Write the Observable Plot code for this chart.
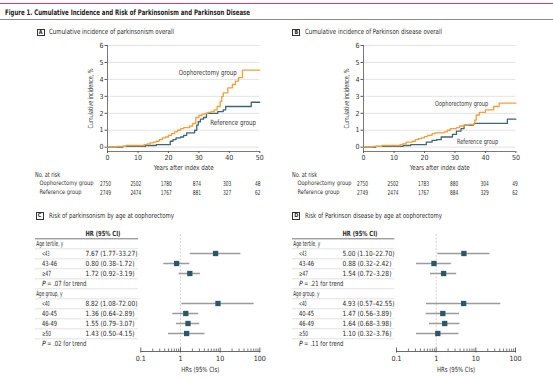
<!DOCTYPE html>
<html><head><meta charset="utf-8">
<script src="https://cdn.jsdelivr.net/npm/d3@7"></script>
<script src="https://cdn.jsdelivr.net/npm/@observablehq/plot@0.6"></script>
<style>
html,body{margin:0;padding:0;background:#fff;}
#fig{position:relative;width:553px;height:379px;overflow:hidden;background:#fff;font-family:"Liberation Sans Narrow","DejaVu Sans Condensed",sans-serif;color:#2b2b2b;}
#fig svg{position:absolute;overflow:visible;}
.t{position:absolute;white-space:nowrap;line-height:1;transform-origin:0 50%;}
.box{position:absolute;width:6px;height:5.6px;border:0.8px solid #333;font-size:5.5px;font-weight:bold;line-height:5.8px;text-align:center;}
.bar{position:absolute;left:0;width:553px;}
</style></head><body><div id="fig"></div>
<script>
// ---------- Data ----------
const years = [0, 10, 20, 30, 40, 50];
const riskGroups = ["Oophorectomy group", "Reference group"];
const riskA_oophorectomy = [2750, 2502, 1780, 874, 303, 48];
const riskA_reference    = [2749, 2474, 1767, 881, 327, 62];
const riskB_oophorectomy = [2750, 2502, 1783, 880, 304, 49];
const riskB_reference    = [2749, 2474, 1767, 884, 329, 62];

// Cumulative incidence of parkinsonism (panel A), step curves
const A_oophorectomy_t = [0, 3, 6, 12, 13, 14, 15, 16, 17, 18, 19, 20, 21, 22, 23, 24, 25, 27, 28, 29, 30, 31, 32, 33, 34, 35, 36, 37, 37.5, 38, 39.5, 41, 42, 43, 44.3, 50];
const A_oophorectomy_v = [0, 0.05, 0.1, 0.15, 0.2, 0.25, 0.3, 0.35, 0.45, 0.55, 0.6, 0.7, 0.8, 0.9, 1.0, 1.1, 1.15, 1.25, 1.4, 1.75, 1.87, 1.95, 2.0, 2.05, 2.1, 2.2, 2.4, 2.7, 3.0, 3.2, 3.5, 3.7, 3.9, 4.1, 4.55, 4.55];
const A_reference_t = [0, 5, 12.5, 16, 20.6, 21.5, 22.5, 24, 25, 26, 28.6, 29.3, 29.8, 30.5, 31.5, 32.5, 36.2, 38, 38.8, 47.2, 50];
const A_reference_v = [0, 0.05, 0.1, 0.15, 0.35, 0.45, 0.55, 0.6, 0.7, 0.85, 1.0, 1.3, 1.5, 1.65, 1.75, 2.0, 2.1, 2.2, 2.4, 2.65, 2.65];

// Cumulative incidence of Parkinson disease (panel B)
const B_oophorectomy_t = [0, 3, 6, 12, 12.8, 14, 16, 17, 18, 19, 20, 21, 22.5, 23.5, 26.5, 27.5, 28.5, 30.5, 31.5, 33, 34.5, 36.5, 37, 38, 40, 42.7, 44.5, 50];
const B_oophorectomy_v = [0, 0.05, 0.1, 0.15, 0.2, 0.3, 0.35, 0.45, 0.5, 0.55, 0.62, 0.7, 0.8, 0.85, 0.9, 1.0, 1.1, 1.15, 1.25, 1.3, 1.35, 1.6, 1.9, 2.05, 2.2, 2.4, 2.6, 2.6];
const B_reference_t = [0, 4, 13, 15.5, 20.6, 22.5, 24, 25.5, 29.2, 30.5, 32, 33, 36, 36.4, 47.2, 50];
const B_reference_v = [0, 0.05, 0.1, 0.15, 0.3, 0.4, 0.45, 0.6, 0.75, 0.95, 1.1, 1.3, 1.35, 1.4, 1.65, 1.65];

// Forest plots (panels C and D)
const subgroups = ["<43", "43-46", "≥47", "<40", "40-45", "46-49", "≥50"];
const groupHeaders = ["Age tertile, y", "Age group, y"];
const C_hr = [7.67, 0.80, 1.72, 8.82, 1.36, 1.55, 1.43];
const C_lo = [1.77, 0.38, 0.92, 1.08, 0.64, 0.79, 0.50];
const C_hi = [33.27, 1.72, 3.19, 72.00, 2.89, 3.07, 4.15];
const C_trend = [".07", ".02"];
const D_hr = [5.00, 0.88, 1.54, 4.93, 1.47, 1.64, 1.10];
const D_lo = [1.10, 0.32, 0.72, 0.57, 0.56, 0.68, 0.32];
const D_hi = [22.70, 2.42, 3.28, 42.55, 3.89, 3.98, 3.76];
const D_trend = [".21", ".11"];
const hrTicks = [0.1, 1, 10, 100];

// ---------- Styling ----------
const FONT = '"Liberation Sans Narrow","DejaVu Sans Condensed",sans-serif';
const ORANGE = "#f3a03a";
const TEAL = "#3e6773";
const MARK = "#2c5866";
const fig = document.getElementById("fig");

function put(el, left, top) { el.style.left = left + "px"; el.style.top = top + "px"; fig.appendChild(el); return el; }
// HTML text, horizontally fitted to the width it has in the reference
function txt(s, left, cy, size, w, extra = "") {
  const d = document.createElement("div"); d.className = "t"; d.textContent = s;
  d.style.cssText += `font-size:${size}px;${extra}`;
  put(d, left, cy - size / 2);
  const aw = d.getBoundingClientRect().width;
  if (w && aw > 0) d.style.transform = `scaleX(${w / aw})`;
  return d;
}
function box(letter, left, top) {
  const d = document.createElement("div"); d.className = "box"; d.textContent = letter; return put(d, left, top);
}
function bar(top, h, color) {
  const d = document.createElement("div"); d.className = "bar"; d.style.height = h + "px"; d.style.background = color; return put(d, 0, top);
}
// SVG text fitting (width per string as in the reference)
function fitSvg(svg, widthOf) {
  svg.querySelectorAll("text").forEach(t => {
    const w = widthOf(t.textContent);
    if (w) { t.setAttribute("textLength", w); t.setAttribute("lengthAdjust", "spacingAndGlyphs"); }
  });
}
function place(svg, left, top) { svg.style.left = left + "px"; svg.style.top = top + "px"; fig.appendChild(svg); }

bar(2.6, 1.6, "#e5357c");
txt("Figure 1. Cumulative Incidence and Risk of Parkinsonism and Parkinson Disease", 5, 12.3, 7.6, 245, "font-weight:bold;color:#222;");
bar(18.8, 0.8, "#8a8a8a");

box("A", 36.7, 28.6); txt("Cumulative incidence of parkinsonism overall", 49, 31.8, 7.2, 125);
box("B", 292.3, 28.6); txt("Cumulative incidence of Parkinson disease overall", 305, 31.8, 7.2, 137);
box("C", 35.7, 212.3); txt("Risk of parkinsonism by age at oophorectomy", 48.7, 215.6, 7.2, 125);
box("D", 292.3, 212.3); txt("Risk of Parkinson disease by age at oophorectomy", 305, 215.6, 7.2, 137);
txt("No. at risk", 35, 175.2, 6.9, 25); txt("No. at risk", 292.3, 175.2, 6.9, 25);

// ---------- KM panels ----------
function km(oT, oV, rT, rV, ann, frameLeft, frameRight, annW) {
  const left = frameLeft - 29, width = frameRight + 11 - left;
  const oo = oT.map((t, i) => ({t, v: oV[i]}));
  const rr = rT.map((t, i) => ({t, v: rV[i]}));
  const svg = Plot.plot({
    width, height: 135, marginLeft: frameLeft - left, marginRight: 11, marginTop: 7, marginBottom: 22,
    style: {fontFamily: FONT, fontSize: "7px", color: "#333", background: "transparent"},
    x: {domain: [0, 50]},
    y: {domain: [-0.254, 6], range: [113, 7]},
    marks: [
      Plot.gridY([0, 1, 2, 3, 4, 5, 6], {stroke: "#dcdcdc", strokeOpacity: 1, strokeWidth: 0.8}),
      Plot.ruleX([0], {stroke: "#555", strokeWidth: 0.8}),
      Plot.ruleY([-0.254], {stroke: "#555", strokeWidth: 0.8}),
      Plot.axisY({ticks: [0, 1, 2, 3, 4, 5, 6], tickFormat: d3.format("d"), tickSize: 2.5, tickPadding: 1.5, stroke: "#555",
        label: "Cumulative incidence, %", labelAnchor: "center", labelArrow: "none", labelOffset: 19}),
      Plot.axisX({ticks: years, tickSize: 2, tickPadding: 1.5, stroke: "#555",
        label: "Years after index date", labelAnchor: "center", labelArrow: "none", labelOffset: 18.5}),
      Plot.line(rr, {x: "t", y: "v", curve: "step-after", stroke: TEAL, strokeWidth: 1.3}),
      Plot.line(oo, {x: "t", y: "v", curve: "step-after", stroke: ORANGE, strokeWidth: 1.3}),
      Plot.text(ann, {x: "x", y: "y", text: "text", textAnchor: "start", fontSize: 7.2, fill: "#333"})
    ]
  });
  fitSvg(svg, s => ({"Years after index date": 60, "Cumulative incidence, %": 60,
                     "Oophorectomy group": annW[0], "Reference group": annW[1]})[s]);
  place(svg, left, 38);
}
function atRisk(oN, rN, frameLeft, frameRight, labelX) {
  const left = labelX - 2, width = frameRight + 11 - left;
  const rows = years.flatMap((t, i) => [{t, g: riskGroups[0], n: oN[i]}, {t, g: riskGroups[1], n: rN[i]}]);
  const svg = Plot.plot({
    width, height: 28, marginLeft: frameLeft - left, marginRight: 11, marginTop: 0, marginBottom: 0,
    style: {fontFamily: FONT, fontSize: "6.9px", color: "#333", background: "transparent"},
    x: {domain: [0, 50], axis: null},
    y: {type: "point", domain: riskGroups, range: [13.3, 22.3], padding: 0, axis: null},
    marks: [
      Plot.text(riskGroups, {y: d => d, text: d => d, frameAnchor: "left", dx: labelX - frameLeft, textAnchor: "start", fontSize: 6.2}),
      Plot.text(rows, {x: "t", y: "g", text: d => String(d.n), dx: -1.5})
    ]
  });
  fitSvg(svg, s => ({"Oophorectomy group": 54, "Reference group": 42})[s] ?? (/^\d+$/.test(s) ? s.length * 2.75 : null));
  place(svg, left, 170);
}

km(A_oophorectomy_t, A_oophorectomy_v, A_reference_t, A_reference_v,
   [{x: 23.4, y: 4.42, text: riskGroups[0]}, {x: 33.7, y: 1.42, text: riskGroups[1]}], 106.7, 259, [58, 46]);
km(B_oophorectomy_t, B_oophorectomy_v, B_reference_t, B_reference_v,
   [{x: 23.5, y: 2.54, text: riskGroups[0]}, {x: 30.7, y: 0.35, text: riskGroups[1]}], 363.3, 515.7, [53, 41]);
atRisk(riskA_oophorectomy, riskA_reference, 106.7, 259, 39.3);
atRisk(riskB_oophorectomy, riskB_reference, 363.3, 515.7, 296.7);

// ---------- Forest panels ----------
const rowKeys = ["HR (95% CI)", groupHeaders[0], "<43", "43-46", "≥47", "trend1", groupHeaders[1], "<40", "40-45", "46-49", "≥50", "trend2"];
const Y_RANGE = [7.3, 124];
const f2 = d3.format(".2f");
const tableWidths = {"HR (95% CI)": 35, "Age tertile, y": 27, "Age group, y": 26,
  "<43": 7.5, "<40": 7.5, "≥47": 9, "≥50": 9, "43-46": 15, "40-45": 15, "46-49": 15};
function forest(hr, lo, hi, trend, tableLeft, tableRight, frameLeft, frameRight) {
  const rows = subgroups.map((k, i) => ({key: k, hr: hr[i], lo: lo[i], hi: hi[i]}));
  const style = {fontFamily: FONT, fontSize: "7.1px", color: "#2b2b2b", background: "transparent"};
  const step = (Y_RANGE[1] - Y_RANGE[0]) / (rowKeys.length - 1);
  const table = Plot.plot({
    width: tableRight - tableLeft, height: 130, margin: 0,
    style,
    x: {axis: null, domain: [0, 1]},
    y: {type: "point", domain: rowKeys, range: Y_RANGE, padding: 0, axis: null},
    marks: [
      Plot.ruleY(rowKeys.slice(1, 11), {y: d => d, dy: step / 2, stroke: "#cfcfcf", strokeWidth: 0.6}),
      Plot.ruleY([rowKeys[0]], {y: d => d, dy: step / 2, stroke: "#555", strokeWidth: 0.8}),
      Plot.text([rowKeys[0]], {y: d => d, text: d => d, frameAnchor: "left", dx: 50, textAnchor: "start", fontWeight: "bold"}),
      Plot.text(groupHeaders, {y: d => d, text: d => d, frameAnchor: "left", dx: 0.8, textAnchor: "start"}),
      Plot.text(subgroups, {y: d => d, text: d => d, frameAnchor: "left", dx: 6.5, textAnchor: "start"}),
      Plot.text(rows, {y: "key", text: d => `${f2(d.hr)} (${f2(d.lo)}–${f2(d.hi)})`, frameAnchor: "left", dx: 50, textAnchor: "start"}),
      Plot.text(["trend1", "trend2"], {y: d => d, text: () => "P", fontStyle: "italic", frameAnchor: "left", dx: 6.5, textAnchor: "start"}),
      Plot.text(trend, {y: (d, i) => ["trend1", "trend2"][i], text: d => `= ${d} for trend`, frameAnchor: "left", dx: 11.5, textAnchor: "start"})
    ]
  });
  fitSvg(table, s => tableWidths[s] ?? (/^\d/.test(s) ? s.length * 3.06 : /^=/.test(s) ? 39.5 : null));
  place(table, tableLeft, 222);

  const minor = [0.1, 1, 10].flatMap(d => [2, 3, 4, 5, 6, 7, 8, 9].map(k => d * k));
  const W = 127, H = 157, mt = 12, mb = 28, fh = H - mt - mb;
  const chart = Plot.plot({
    width: W, height: H, marginLeft: frameLeft - tableRight, marginRight: W - (frameRight - tableRight), marginTop: mt, marginBottom: mb,
    style,
    x: {type: "log", domain: [0.1, 100]},
    y: {type: "point", domain: rowKeys, range: Y_RANGE, padding: 0, axis: null},
    marks: [
      Plot.ruleX([1], {stroke: "#c9c9c9", strokeDasharray: "2,1.5", strokeWidth: 0.8}),
      Plot.frame({anchor: "bottom", stroke: "#444", strokeWidth: 0.8}),
      Plot.ruleX(minor, {x: d => d, insetTop: fh - 2.5, stroke: "#444", strokeWidth: 0.7}),
      Plot.ruleX(hrTicks, {x: d => d, insetTop: fh - 3.5, insetBottom: -1.5, stroke: "#444", strokeWidth: 0.8}),
      Plot.axisX({ticks: hrTicks, tickSize: 0, tickPadding: 4.5, tickFormat: d3.format("~g"),
        label: "HRs (95% CIs)", labelAnchor: "center", labelArrow: "none", labelOffset: 20}),
      Plot.ruleY(rows, {y: "key", x1: "lo", x2: "hi", stroke: "#9b9b9b", strokeWidth: 1.5}),
      Plot.dot(rows, {x: "hr", y: "key", symbol: "square", r: 3, fill: MARK})
    ]
  });
  fitSvg(chart, s => ({"HRs (95% CIs)": 38})[s]);
  place(chart, tableRight, 222);
}
forest(C_hr, C_lo, C_hi, C_trend, 35, 138, 140.3, 259.3);
forest(D_hr, D_lo, D_hi, D_trend, 291.7, 394, 396, 515);
</script></body></html>
